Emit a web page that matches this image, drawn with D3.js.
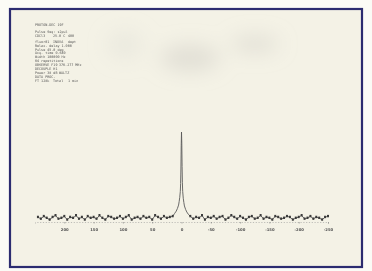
<!DOCTYPE html>
<html>
<head>
<meta charset="utf-8">
<script src="https://cdn.jsdelivr.net/npm/d3@7"></script>
<style>
  body { margin: 0; background: #fbfbf6; }
  svg { display: block; }
  .param { font-family: "DejaVu Sans Mono", monospace; font-size: 3.4px; fill: #555; }
  .tick-label { font-family: "DejaVu Sans", sans-serif; font-size: 3.8px; font-weight: bold; fill: #555; }
</style>
</head>
<body>
<svg id="chart" width="372" height="271"></svg>
<script>
// chemical shift (ppm) and intensity of the trace
const ppm = [245,240,235,230,225,220,215,210,205,200,195,190,185,180,175,170,165,160,155,150,145,140,135,130,125,120,115,110,105,100,95,90,85,80,75,70,65,60,55,50,45,40,35,30,25,20,15,
  12,9,7,5,4,3,2,1.5,1,0.5,0,-0.5,-1,-1.5,-2,-3,-4,-5,-7,-9,-12,
  -15,-20,-25,-30,-35,-40,-45,-50,-55,-60,-65,-70,-75,-80,-85,-90,-95,-100,-105,-110,-115,-120,-125,-130,-135,-140,-145,-150,-155,-160,-165,-170,-175,-180,-185,-190,-195,-200,-205,-210,-215,-220,-225,-230,-235,-240,-245,-250]
const intensity = [1,-1,2,0,-2,1,3,-1,0,2,-2,1,0,3,-1,1,-2,2,0,1,-1,3,0,-2,2,1,-1,0,2,-1,1,3,-2,0,1,-1,2,0,1,-2,3,1,-1,2,0,1,2,
  5,8,11,15,19,24,31,40,57,84,100,87,60,41,31,23,18,14,10,7,4,
  2,-1,1,0,3,-2,1,0,2,-1,1,2,-2,0,3,1,-1,2,0,-2,1,2,-1,0,3,-1,1,0,-2,2,1,-1,0,2,1,-2,0,1,3,-1,0,2,-1,1,0,-2,1,2]

const tickValues = [200,150,100,50,0,-50,-100,-150,-200,-250]
const tickLabels = ["200","150","100","50","0","-50","-100","-150","-200","-250"]

const paramLines = [
  ["PROTON-DEC 19F"],
  ["Pulse Seq: s2pul"],
  ["CDCl3", "25.0 C", "400"],
  ["fluor01", "INOVA", "dept"],
  ["Relax. delay 1.000"],
  ["Pulse 45.0 deg"],
  ["Acq. time 0.640"],
  ["Width 100000 Hz"],
  ["64 repetitions"],
  ["OBSERVE F19", "376.277 MHz"],
  ["DECOUPLE H1"],
  ["Power 38 dB", "WALTZ"],
  ["DATA PROC."],
  ["FT 128k", "Total", "1 min"]
]

const svg = d3.select("#chart")

const defs = svg.append("defs")
defs.append("filter").attr("id", "soft")
  .append("feGaussianBlur").attr("stdDeviation", 0.45)
defs.append("filter").attr("id", "smudge")
  .attr("x", "-50%").attr("y", "-50%").attr("width", "200%").attr("height", "200%")
  .append("feGaussianBlur").attr("stdDeviation", 10)

// page and frame
svg.append("rect")
  .attr("x", 10).attr("y", 9)
  .attr("width", 352).attr("height", 258)
  .attr("fill", "#f4f2e6")

// shadows on the photographed sheet
const smudges = svg.append("g").attr("filter", "url(#smudge)")
smudges.append("ellipse").attr("cx", 190).attr("cy", 58).attr("rx", 30).attr("ry", 13)
  .attr("fill", "#c9c8c2").attr("opacity", 0.45)
smudges.append("ellipse").attr("cx", 255).attr("cy", 44).attr("rx", 24).attr("ry", 8)
  .attr("fill", "#c9c8c2").attr("opacity", 0.45)
smudges.append("ellipse").attr("cx", 125).attr("cy", 45).attr("rx", 18).attr("ry", 14)
  .attr("fill", "#dad9d2").attr("opacity", 0.35)

svg.append("rect")
  .attr("x", 10).attr("y", 9)
  .attr("width", 352).attr("height", 258)
  .attr("fill", "none")
  .attr("stroke", "#2c2c70")
  .attr("stroke-width", 2.2)

const x = d3.scaleLinear().domain([250, -250]).range([35, 328])
const y = d3.scaleLinear().domain([0, 100]).range([218, 132])

const plot = svg.append("g").attr("filter", "url(#soft)")

// axis line with ticks
const axis = d3.axisBottom(x)
  .tickValues(tickValues)
  .tickSize(1.5)
  .tickFormat((d, i) => tickLabels[i])

const axisG = plot.append("g")
  .attr("transform", "translate(0,222)")
  .call(axis)
axisG.select(".domain")
  .attr("stroke", "#999").attr("stroke-width", 0.6)
  .attr("stroke-dasharray", "1.2,1.6")
axisG.selectAll(".tick line").attr("stroke", "#777").attr("stroke-width", 0.6)
axisG.selectAll(".tick text")
  .attr("class", "tick-label")
  .attr("dy", 0)
  .attr("y", 9)
  .attr("font-size", null).attr("font-family", null).attr("fill", null)

const line = d3.line()
  .x((d, i) => x(ppm[i]))
  .y(d => y(d))

plot.append("path")
  .datum(intensity)
  .attr("d", line)
  .attr("fill", "none")
  .attr("stroke", "#5a5a5a")
  .attr("stroke-width", 0.9)

// thick noisy baseline band
const basePpm = ppm.filter(p => Math.abs(p) > 12)
const baseInt = intensity.filter((d, i) => Math.abs(ppm[i]) > 12)
plot.selectAll(".dot")
  .data(baseInt)
  .join("rect")
  .attr("class", "dot")
  .attr("x", (d, i) => x(basePpm[i]) - 1)
  .attr("y", d => y(d) - 1.4)
  .attr("width", 2)
  .attr("height", 2.4)
  .attr("fill", "#3a3a3a")

// parameter block
const params = svg.append("g").attr("filter", "url(#soft)")
paramLines.forEach((row, r) => {
  row.forEach((txt, c) => {
    const colX = row.length === 3 ? [35, 53, 68][c] : [35, 59][c]
    params.append("text")
      .attr("class", "param")
      .attr("x", colX)
      .attr("y", 26 + r * 3.9 + (r > 0 ? 3 : 0) + (r > 2 ? 2 : 0))
      .text(txt)
  })
})
</script>
</body>
</html>
